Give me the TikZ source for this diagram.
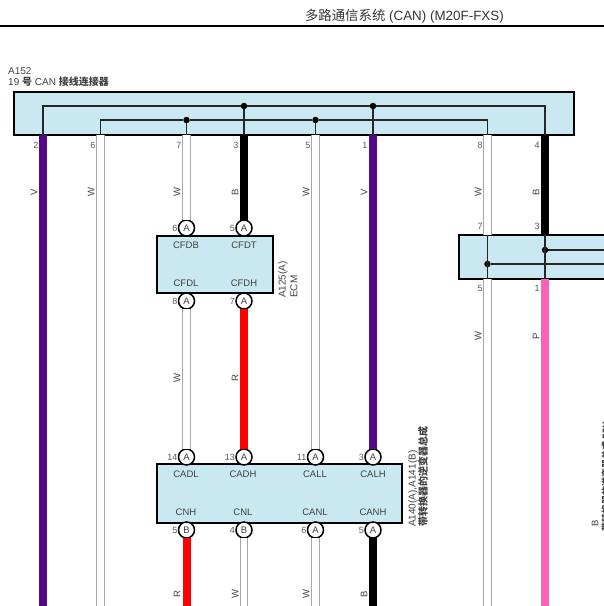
\documentclass[tikz,border=0pt]{standalone}
\usepackage{fontspec}
\setmainfont{Liberation Sans}
\newfontfamily\cjk{Noto Sans CJK SC}
\tikzset{
  conbox/.style={draw, line width=1.6pt, fill=boxblue, outer sep=0pt, inner sep=0pt},
  pinmark/.style={draw, circle, line width=1.5pt, fill=white, inner sep=0pt, outer sep=0pt, minimum size=16pt, label distance=1.5pt, font=\fontsize{9.5}{9.5}\selectfont, text=black!75},
  pinnum/.style={font=\fontsize{9}{9}\selectfont, text=black!65, inner sep=1pt},
  termname/.style={font=\fontsize{9.5}{10}\selectfont, text=black!75, inner sep=0pt},
  colname/.style={font=\fontsize{9.5}{10}\selectfont, text=black!75, rotate=90, inner sep=0pt},
  dot/.style={circle, fill=black, inner sep=0pt, minimum size=6.5pt},
  bus/.style={draw, line width=1.1pt, black!85},
  thickwire/.style={draw, line width=8pt},
  whitewire/.style={draw=black!35, line width=0.9pt, double=white, double distance=6.6pt},
}
\begin{document}
\begin{tikzpicture}[x=1pt,y=-1pt]
\definecolor{boxblue}{rgb}{0.79,0.91,0.95}
\definecolor{wirepurple}{rgb}{0.32,0.03,0.53}
\definecolor{wirepink}{rgb}{0.98,0.39,0.71}
\useasboundingbox (0,0) rectangle (604,606);
\clip (0,0) rectangle (604,606);

% header
\node[anchor=east, inner sep=0pt, text=black!80, font=\fontsize{13.4}{14}\selectfont] (title) at (504,16) {{\cjk 多路通信系统} (CAN) (M20F-FXS)};
\coordinate (ruleL) at (0,26);
\coordinate (ruleR) at (604,26);
\path[draw,line width=1.4pt] (ruleL) -- (ruleR);

% connector boxes
\node[conbox, minimum width=560pt, minimum height=43pt] (jc) at (294,113.5) {};
\node[conbox, minimum width=116pt, minimum height=57pt] (eom) at (215,264.5) {};
\node[conbox, minimum width=245pt, minimum height=59pt] (inv) at (279.5,493.5) {};
\node[conbox, minimum width=160pt, minimum height=44pt] (gw) at (539,257) {};

\node[anchor=west, inner sep=0pt, text=black!70, font=\fontsize{10}{10}\selectfont] (jcid) at (8,71) {A152};
\node[anchor=west, inner sep=0pt, text=black!75, font=\fontsize{10}{10}\selectfont] (jcname) at (8,82) {19 {\cjk\bfseries 号} CAN {\cjk\bfseries 接线连接器}};
\node[colname, anchor=west, font=\fontsize{10}{10}\selectfont] (eomid) at (283,298) {A125(A)};
\node[colname, anchor=west, font=\fontsize{10}{10}\selectfont] (eomname) at (294,298) {ECM};
\node[colname, anchor=west, font=\fontsize{10}{10}\selectfont] (invid) at (413,527) {A140(A),A141(B)};
\node[colname, anchor=west, font=\fontsize{10}{10}\selectfont] (invname) at (423,527) {\cjk\bfseries 带转换器的逆变器总成};
\node[colname, anchor=west] (gwid) at (595,527) {B};
\node[colname, anchor=west, font=\fontsize{9}{10}\selectfont] (gwname) at (606,532) {\cjk\bfseries 带转换器的逆变器总成 ECU};

% pins on the top box
\coordinate (p2) at (43,135);
\coordinate (p6) at (100.5,135);
\coordinate (p7) at (186.5,135);
\coordinate (p3) at (244,135);
\coordinate (p5) at (315.5,135);
\coordinate (p1) at (373,135);
\coordinate (p8) at (487.5,135);
\coordinate (p4) at (545,135);
\node[pinnum] (n2) at (36,145) {2};
\node[pinnum] (n6) at (93,145) {6};
\node[pinnum] (n7) at (179,145) {7};
\node[pinnum] (n3) at (236,145) {3};
\node[pinnum] (n5) at (308,145) {5};
\node[pinnum] (n1) at (365,145) {1};
\node[pinnum] (n8) at (480,145) {8};
\node[pinnum] (n4) at (537,145) {4};

% pins on the right box
\coordinate (gt7) at (487.5,235);
\coordinate (gt3) at (545,235);
\coordinate (gb5) at (487.5,279);
\coordinate (gb1) at (545,279);
\coordinate (ge1) at (610,250);
\coordinate (ge2) at (610,264);
\node[pinnum] (ng7) at (480,226) {7};
\node[pinnum] (ng3) at (537,226) {3};
\node[pinnum] (ng5) at (480,288) {5};
\node[pinnum] (ng1) at (537,288) {1};

% circled pins
\node[pinmark, label={[pinnum]left:6}] (cfdb) at (186.5,228) {A};
\node[pinmark, label={[pinnum]left:5}] (cfdt) at (244,228) {A};
\node[pinmark, label={[pinnum]left:8}] (cfdl) at (186.5,301) {A};
\node[pinmark, label={[pinnum]left:7}] (cfdh) at (244,301) {A};
\node[pinmark, label={[pinnum]left:14}] (cadl) at (186.5,457) {A};
\node[pinmark, label={[pinnum]left:13}] (cadh) at (244,457) {A};
\node[pinmark, label={[pinnum]left:11}] (call) at (315.5,457) {A};
\node[pinmark, label={[pinnum]left:3}] (calh) at (373,457) {A};
\node[pinmark, label={[pinnum]left:5}] (cnh) at (186.5,530) {B};
\node[pinmark, label={[pinnum]left:4}] (cnl) at (244,530) {B};
\node[pinmark, label={[pinnum]left:6}] (canl) at (315.5,530) {A};
\node[pinmark, label={[pinnum]left:5}] (canh) at (373,530) {A};

% terminal names
\node[termname] (tcfdb) at (186,245) {CFDB};
\node[termname] (tcfdt) at (244,245) {CFDT};
\node[termname] (tcfdl) at (186,283) {CFDL};
\node[termname] (tcfdh) at (244,283) {CFDH};
\node[termname] (tcadl) at (186,474) {CADL};
\node[termname] (tcadh) at (243,474) {CADH};
\node[termname] (tcall) at (315,474) {CALL};
\node[termname] (tcalh) at (373,474) {CALH};
\node[termname] (tcnh) at (186,512) {CNH};
\node[termname] (tcnl) at (243,512) {CNL};
\node[termname] (tcanl) at (315,512) {CANL};
\node[termname] (tcanh) at (373,512) {CANH};

% free ends at the bottom
\coordinate (e2) at (43,606);
\coordinate (e6) at (100.5,606);
\coordinate (e8) at (487.5,606);
\coordinate (e4) at (545,606);
\coordinate (ecnh) at (186.5,606);
\coordinate (ecnl) at (244,606);
\coordinate (ecanl) at (315.5,606);
\coordinate (ecanh) at (373,606);

% wires
\path[thickwire,wirepurple] (p2) -- (e2);
\path[whitewire] (p6) -- (e6);
\path[whitewire] (p7) -- (cfdb);
\path[thickwire,black] (p3) -- (cfdt);
\path[whitewire] (p5) -- (call);
\path[thickwire,wirepurple] (p1) -- (calh);
\path[whitewire] (p8) -- (gt7);
\path[thickwire,black] (p4) -- (gt3);
\path[whitewire] (gb5) -- (e8);
\path[thickwire,wirepink] (gb1) -- (e4);
\path[whitewire] (cfdl) -- (cadl);
\path[thickwire,red] (cfdh) -- (cadh);
\path[thickwire,red] (cnh) -- (ecnh);
\path[whitewire] (cnl) -- (ecnl);
\path[whitewire] (canl) -- (ecanl);
\path[thickwire,black] (canh) -- (ecanh);

% wire colour letters
\node[colname] (l1) at (34,192) {V};
\node[colname] (l2) at (91,192) {W};
\node[colname] (l3) at (177,192) {W};
\node[colname] (l4) at (235,192) {B};
\node[colname] (l5) at (306,192) {W};
\node[colname] (l6) at (364,192) {V};
\node[colname] (l7) at (478,192) {W};
\node[colname] (l8) at (536,192) {B};
\node[colname] (l9) at (478,336) {W};
\node[colname] (l10) at (536,336) {P};
\node[colname] (l11) at (177,378) {W};
\node[colname] (l12) at (235,378) {R};
\node[colname] (l13) at (177,594) {R};
\node[colname] (l14) at (235,594) {W};
\node[colname] (l15) at (306,594) {W};
\node[colname] (l16) at (364,594) {B};

% inside the top box
\node[dot] (j3) at (244,106) {};
\node[dot] (j1) at (373,106) {};
\node[dot] (j7) at (186.5,120) {};
\node[dot] (j5) at (315.5,120) {};
\path[bus] (p2) |- (j3);
\path[bus] (j3) -- (j1);
\path[bus] (j1) -| (p4);
\path[bus] (j3) -- (p3);
\path[bus] (j1) -- (p1);
\path[bus] (p6) |- (j7);
\path[bus] (j7) -- (j5);
\path[bus] (j5) -| (p8);
\path[bus] (j7) -- (p7);
\path[bus] (j5) -- (p5);

% inside the right box
\node[dot] (g3) at (545,250) {};
\node[dot] (g7) at (487.5,264) {};
\path[bus] (gt3) -- (gb1);
\path[bus] (gt7) -- (gb5);
\path[bus] (g3) -- (ge1);
\path[bus] (g7) -- (ge2);
\end{tikzpicture}
\end{document}
